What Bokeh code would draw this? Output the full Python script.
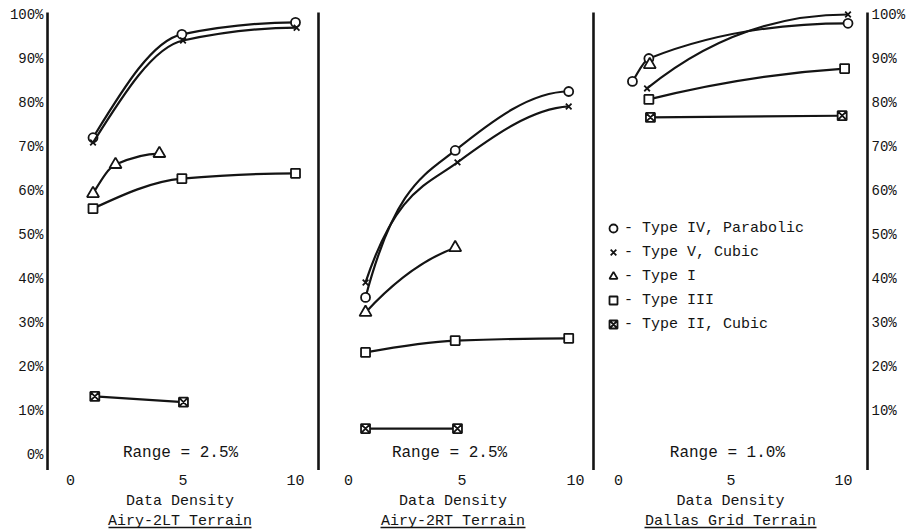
import numpy as np
from bokeh.plotting import figure
from bokeh.layouts import row
from bokeh.models import (Range1d, FixedTicker, PrintfTickFormatter, LinearAxis,
                          Title, Label, Legend, LegendItem)
from bokeh.embed import file_html
from bokeh.resources import INLINE

# ---------------- data ----------------
x_ticks = [0, 5, 10]
y_ticks_left = [0, 10, 20, 30, 40, 50, 60, 70, 80, 90, 100]
y_ticks_right = [10, 20, 30, 40, 50, 60, 70, 80, 90, 100]

panel_titles = ["Airy-2LT Terrain", "Airy-2RT Terrain", "Dallas Grid Terrain"]
range_texts = ["Range = 2.5%", "Range = 2.5%", "Range = 1.0%"]

series_labels = ["- Type IV, Parabolic", "- Type V, Cubic", "- Type I",
                 "- Type III", "- Type II, Cubic"]

# Airy-2LT
lt_iv_x = [1.0, 4.95, 10.0];  lt_iv_y = [72.0, 95.5, 98.2]
lt_v_x = [1.0, 5.0, 10.05];   lt_v_y = [70.9, 94.1, 97.0]
lt_i_x = [1.0, 2.0, 3.95];    lt_i_y = [59.3, 65.9, 68.4]
lt_iii_x = [1.0, 4.95, 10.0]; lt_iii_y = [55.9, 62.7, 63.9]
lt_ii_x = [1.08, 5.02];       lt_ii_y = [13.2, 11.9]

# Airy-2RT
rt_iv_x = [0.75, 4.7, 9.7];   rt_iv_y = [35.7, 69.1, 82.5]
rt_v_x = [0.75, 4.8, 9.7];    rt_v_y = [39.1, 66.4, 79.1]
rt_i_x = [0.75, 4.7];         rt_i_y = [32.3, 47.0]
rt_iii_x = [0.75, 4.7, 9.7];  rt_iii_y = [23.2, 25.9, 26.4]
rt_ii_x = [0.75, 4.8];        rt_ii_y = [5.9, 5.9]

# Dallas Grid
dg_iv_x = [0.62, 1.35, 10.2]; dg_iv_y = [84.8, 90.0, 98.0]
dg_v_x = [1.27, 10.2];        dg_v_y = [83.2, 100.0]
dg_i_x = [1.39];              dg_i_y = [88.6]
dg_iii_x = [1.35, 10.05];     dg_iii_y = [80.7, 87.7]
dg_ii_x = [1.42, 9.94];       dg_ii_y = [76.6, 77.0]

panels = [
    [(lt_iv_x, lt_iv_y), (lt_v_x, lt_v_y), (lt_i_x, lt_i_y), (lt_iii_x, lt_iii_y), (lt_ii_x, lt_ii_y)],
    [(rt_iv_x, rt_iv_y), (rt_v_x, rt_v_y), (rt_i_x, rt_i_y), (rt_iii_x, rt_iii_y), (rt_ii_x, rt_ii_y)],
    [(dg_iv_x, dg_iv_y), (dg_v_x, dg_v_y), (dg_i_x, dg_i_y), (dg_iii_x, dg_iii_y), (dg_ii_x, dg_ii_y)],
]

# ---------------- styles / layout ----------------
FONT = "Liberation Mono"
INK = "#141414"
markers = ["circle", "x", "triangle", "square", "square_x"]
marker_sizes = [9, 8, 12, 9, 9]

# hand-drawn bend of connecting curves (start slope / mean slope), style only
bend = {(1, 0): 2.3, (1, 1): 2.3, (1, 2): 1.5, (2, 1): 2.2, (2, 3): 1.6}

FIG_H = 530
TOP = 10
FRAME_H = 462
Y0, Y1 = -4.09, 100.91

fig_w = [315, 275, 321]
border_l = [44, 0, 0]
border_r = [0, 0, 41]
x_ranges = [(-1.156, 10.889), (-1.454, 10.66), (-1.244, 11.2)]
separators = [[-1.022], [-1.322], [-1.111, 11.067]]
range_x = [4.89, 4.45, 4.84]
range_y = 0.23
px_per_unit = [22.5, 22.7, 22.5]


def curve_bezier(xs, ys, f=None):
    xs = np.asarray(xs, float)
    ys = np.asarray(ys, float)
    n = len(xs)
    h = np.diff(xs)
    d = np.diff(ys) / h
    m = np.zeros(n)
    if n == 2:
        if f is None:
            m[:] = d[0]
        else:
            m[0] = f * d[0]
            m[1] = max(0.0, 2.0 - f) * d[0]
    else:
        for k in range(1, n - 1):
            if d[k - 1] * d[k] > 0:
                w1 = 2 * h[k] + h[k - 1]
                w2 = h[k] + 2 * h[k - 1]
                m[k] = (w1 + w2) / (w1 / d[k - 1] + w2 / d[k])
        m0 = ((2 * h[0] + h[1]) * d[0] - h[0] * d[1]) / (h[0] + h[1])
        if np.sign(m0) != np.sign(d[0]):
            m0 = 0.0
        m[0] = m0 if f is None else f * d[0]
        mn = ((2 * h[-1] + h[-2]) * d[-1] - h[-1] * d[-2]) / (h[-1] + h[-2])
        if np.sign(mn) != np.sign(d[-1]):
            mn = 0.0
        m[-1] = mn
    return dict(x0=xs[:-1], y0=ys[:-1], x1=xs[1:], y1=ys[1:],
                cx0=xs[:-1] + h / 3, cy0=ys[:-1] + m[:-1] * h / 3,
                cx1=xs[1:] - h / 3, cy1=ys[1:] - m[1:] * h / 3)


figs = []
for i in range(3):
    yloc = ["left", None, "right"][i]
    p = figure(width=fig_w[i], height=FIG_H,
               x_range=Range1d(*x_ranges[i]), y_range=Range1d(Y0, Y1),
               output_backend="svg", toolbar_location=None,
               y_axis_location=yloc,
               min_border_left=border_l[i], min_border_right=border_r[i],
               min_border_top=TOP, min_border_bottom=FIG_H - TOP - FRAME_H)
    p.grid.visible = False
    p.outline_line_color = None
    p.background_fill_color = "white"
    p.border_fill_color = "white"

    ax = p.xaxis[0]
    ax.ticker = FixedTicker(ticks=x_ticks)
    ax.axis_line_color = None
    ax.major_tick_line_color = None
    ax.minor_tick_line_color = None
    ax.major_tick_out = 0
    ax.major_tick_in = 0
    ax.major_label_standoff = 2
    ax.major_label_text_font = FONT
    ax.major_label_text_font_size = "15px"
    ax.major_label_text_color = INK
    ax.axis_label = "Data Density"
    ax.axis_label_text_font = FONT
    ax.axis_label_text_font_size = "15px"
    ax.axis_label_text_font_style = "normal"
    ax.axis_label_text_color = INK
    ax.axis_label_standoff = 5

    if yloc is not None:
        ya = p.yaxis[0]
        ya.ticker = FixedTicker(ticks=y_ticks_left if i == 0 else y_ticks_right)
        ya.formatter = PrintfTickFormatter(format="%d%%")
        ya.axis_line_color = None
        ya.major_tick_line_color = None
        ya.minor_tick_line_color = None
        ya.major_tick_out = 0
        ya.major_tick_in = 0
        ya.major_label_standoff = 1
        ya.major_label_text_font = FONT
        ya.major_label_text_font_size = "14px"
        ya.major_label_text_color = INK

    t = Title(text=panel_titles[i], align="center", text_font=FONT,
              text_font_size="15px", text_font_style="normal", text_color=INK,
              standoff=-4, offset=0)
    p.add_layout(t, "below")
    half = len(panel_titles[i]) * 9.0 / 2 / px_per_unit[i]
    cx = (x_ranges[i][0] + x_ranges[i][1]) / 2
    ul = LinearAxis(bounds=(cx - half, cx + half), ticker=FixedTicker(ticks=[]),
                    axis_line_width=1.6, axis_line_color=INK,
                    major_tick_line_color=None, minor_tick_line_color=None,
                    major_label_standoff=0, major_tick_out=0, major_tick_in=0)
    p.add_layout(ul, "below")

    for s in separators[i]:
        p.segment(x0=[s], y0=[-3.5], x1=[s], y1=[100.45], line_color=INK, line_width=2.6)

    rends = []
    for k, (xs, ys) in enumerate(panels[i]):
        if len(xs) >= 2:
            p.bezier(**curve_bezier(xs, ys, bend.get((i, k))), line_color=INK, line_width=2.2)
        r = p.scatter(xs, ys, marker=markers[k], size=marker_sizes[k],
                      fill_color="white", line_color=INK, line_width=1.8)
        rends.append(r)

    p.add_layout(Label(x=range_x[i], y=range_y, text=range_texts[i],
                       text_align="center", text_baseline="middle",
                       text_font=FONT, text_font_size="16px", text_color=INK))

    if i == 2:
        items = [LegendItem(label=series_labels[k], renderers=[rends[k]]) for k in range(5)]
        lg = Legend(items=items, location=(13, 137), background_fill_alpha=0,
                    border_line_color=None, label_text_font=FONT,
                    label_text_font_size="15px", label_text_color=INK,
                    glyph_width=20, glyph_height=22, label_height=22,
                    spacing=2, padding=0, margin=0, label_standoff=1)
        p.add_layout(lg)
    figs.append(p)

layout = row(*figs)
open("out.html", "w").write(file_html(layout, INLINE))
